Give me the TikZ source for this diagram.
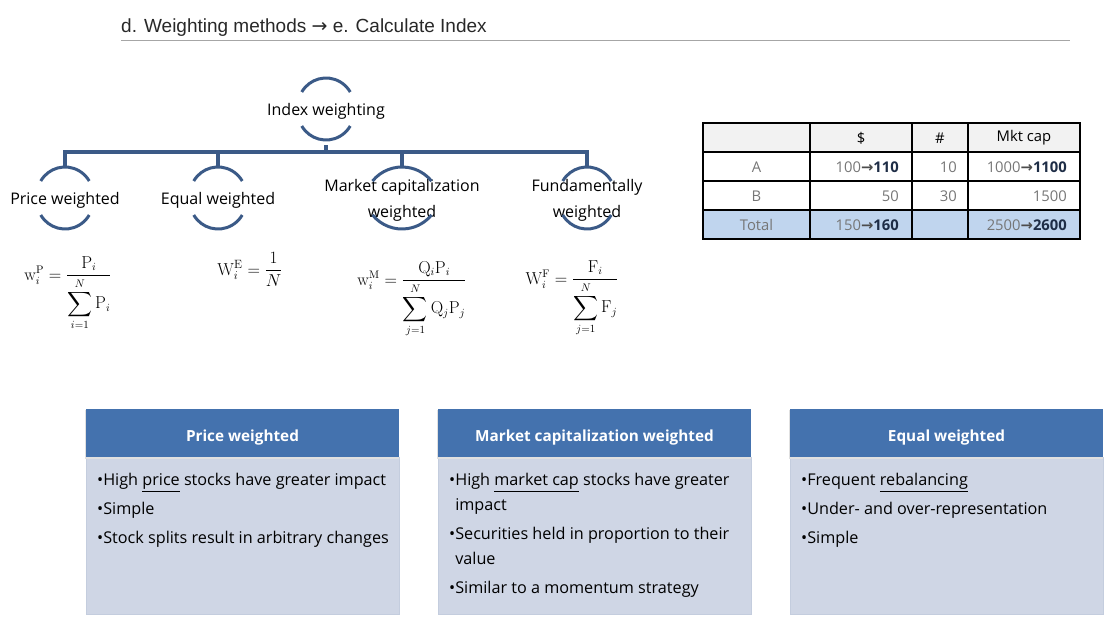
\documentclass[tikz,border=0pt]{standalone}
\usepackage[no-math]{fontspec}
\setmainfont{Open Sans}
\newfontfamily\titlefont{Liberation Sans}
\newfontfamily\arrowfont{DejaVu Sans}
\usepackage{amsmath}
\usetikzlibrary{calc}
\definecolor{treeblue}{RGB}{59,90,135}
\definecolor{headblue}{RGB}{68,114,174}
\definecolor{bodyblue}{RGB}{207,214,229}
\definecolor{bodyedge}{RGB}{196,205,222}
\definecolor{totalblue}{RGB}{192,213,238}
\definecolor{headgray}{RGB}{242,242,242}
\definecolor{numgray}{RGB}{118,118,118}
\definecolor{numdark}{RGB}{30,45,70}
\definecolor{titlegray}{RGB}{40,40,40}
\newcommand{\toarrow}{{\arrowfont\bfseries\color{black!70}→}}
\newcommand{\grow}[2]{#1\toarrow{\bfseries\color{numdark}#2}}
% centre x, centre y, radius, half angle
\newcommand{\brackets}[4]{%
  \draw[brk] ([shift={(270-#4:#3)}]#1,{#2-31+#3}) arc[start angle=270-#4, end angle=270+#4, radius=#3];
  \draw[brk] ([shift={(90+#4:#3)}]#1,{#2+31-#3}) arc[start angle=90+#4, end angle=90-#4, radius=#3];}
\begin{document}
\begin{tikzpicture}[x=1pt, y=-1pt,
  lbl/.style={inner sep=0, font=\fontsize{16}{26}\selectfont, align=center},
  brk/.style={treeblue, line width=3pt},
  bar/.style={treeblue, line width=4pt, line join=miter},
  fml/.style={inner sep=0, anchor=base, font=\fontsize{16}{18}\selectfont},
  tbl/.style={black, line width=1.5pt},
  cell/.style={inner sep=0, font=\fontsize{14.8}{16}\selectfont, text=numgray},
  num/.style={cell, anchor=east},
  head/.style={inner sep=0, text=white, font=\bfseries\fontsize{15.3}{17}\selectfont},
  item/.style={inner sep=0, anchor=base west, font=\fontsize{16.2}{18}\selectfont}]
\useasboundingbox (0,0) rectangle (1113,632);

% title
\node[anchor=base west, inner sep=0, font=\titlefont\fontsize{19}{21}\selectfont, text=titlegray] (title) at (121,32) {d. Weighting methods {\arrowfont →} e. Calculate Index};
\draw[black!35, line width=1pt] (121,40) -- (1070,40);

% tree
\coordinate (bus) at (326,152);
\node[lbl] (idx) at (326,111.5) {Index weighting};
\node[lbl] (pw) at (65,200.5) {Price weighted};
\node[lbl] (ew) at (218,200.5) {Equal weighted};
\node[lbl] (mw) at (402,200) {Market capitalization\\weighted};
\node[lbl] (fw) at (587,200) {Fundamentally\\weighted};
\brackets{326}{109}{28}{60}
\brackets{65}{198}{28}{60}
\brackets{218}{198}{28}{60}
\brackets{402}{198}{38}{51}
\brackets{587}{198}{28}{60}
\draw[bar] ([yshift=-33.5pt]idx.center) -- (idx |- bus);
\draw[bar] ([yshift=33.5pt]pw.center) -- (pw |- bus) -- (fw |- bus) -- ([yshift=33pt]fw.center);
\draw[bar] (ew |- bus) -- ([yshift=33.5pt]ew.center);
\draw[bar] (mw |- bus) -- ([yshift=33pt]mw.center);

% formulas
\node[fml] (fp) at (68,280) {$\mathrm{w}_i^{\mathrm{P}}=\dfrac{\mathrm{P}_i}{\displaystyle\sum_{i=1}^{N}\mathrm{P}_i}$};
\node[fml, font=\fontsize{17.5}{19}\selectfont] (fe) at (250,275) {$\mathrm{W}_i^{\mathrm{E}}=\dfrac{1}{N}$};
\node[fml] (fm) at (412,285) {$\mathrm{w}_i^{\mathrm{M}}=\dfrac{\mathrm{Q}_i\mathrm{P}_i}{\displaystyle\sum_{j=1}^{N}\mathrm{Q}_j\mathrm{P}_j}$};
\node[fml] (ff) at (572,284) {$\mathrm{W}_i^{\mathrm{F}}=\dfrac{\mathrm{F}_i}{\displaystyle\sum_{j=1}^{N}\mathrm{F}_j}$};

% table
\fill[headgray] (703,123) rectangle (1080,152);
\fill[totalblue] (703,210) rectangle (1080,239);
\foreach \y in {152,181,210} \draw[tbl] (703,\y) -- (1080,\y);
\foreach \x in {810,912,968} \draw[tbl] (\x,123) -- (\x,239);
\draw[tbl] (703,123) rectangle (1080,239);
\node[cell, text=black] (hD) at (861,138) {\$};
\node[cell, text=black] (hN) at (940,138) {\#};
\node[cell, text=black] (hM) at (1024,138) {Mkt cap};
\node[cell] (rA) at (756.5,167) {A};
\node[num] (aD) at (899,167) {\grow{100}{110}};
\node[num] (aN) at (957,167) {10};
\node[num] (aM) at (1067,167) {\grow{1000}{1100}};
\node[cell] (rB) at (756.5,196) {B};
\node[num] (bD) at (899,196) {50};
\node[num] (bN) at (957,196) {30};
\node[num] (bM) at (1067,196) {1500};
\node[cell] (rT) at (756.5,225) {Total};
\node[num] (tD) at (899,225) {\grow{150}{160}};
\node[num] (tM) at (1067,225) {\grow{2500}{2600}};

% boxes
\foreach \L/\name/\ttl in {86/pwb/Price weighted, 438/mwb/Market capitalization weighted, 790/ewb/Equal weighted}{
  \fill[bodyblue, draw=bodyedge, line width=1pt] (\L,457) rectangle (\L+313,614);
  \fill[black!12] (\L-1,410) rectangle (\L+313,459);
  \fill[headblue] (\L,409) rectangle (\L+313,457);
  \node[head] (\name) at (\L+156.5,438) {\ttl};
}
\node[item] (p1) at (97,485) {\textbullet High \underline{price} stocks have greater impact};
\node[item] (p2) at (97,514.5) {\textbullet Simple};
\node[item] (p3) at (97,543) {\textbullet Stock splits result in arbitrary changes};
\node[item] (m1) at (449,485) {\textbullet High \underline{market cap} stocks have greater};
\node[item] (m2) at (449,510) {\hphantom{\textbullet}impact};
\node[item] (m3) at (449,539) {\textbullet Securities held in proportion to their};
\node[item] (m4) at (449,564) {\hphantom{\textbullet}value};
\node[item] (m5) at (449,593) {\textbullet Similar to a momentum strategy};
\node[item] (e1) at (801,485) {\textbullet Frequent \underline{rebalancing}};
\node[item] (e2) at (801,514.5) {\textbullet Under- and over-representation};
\node[item] (e3) at (801,543) {\textbullet Simple};
\end{tikzpicture}
\end{document}
